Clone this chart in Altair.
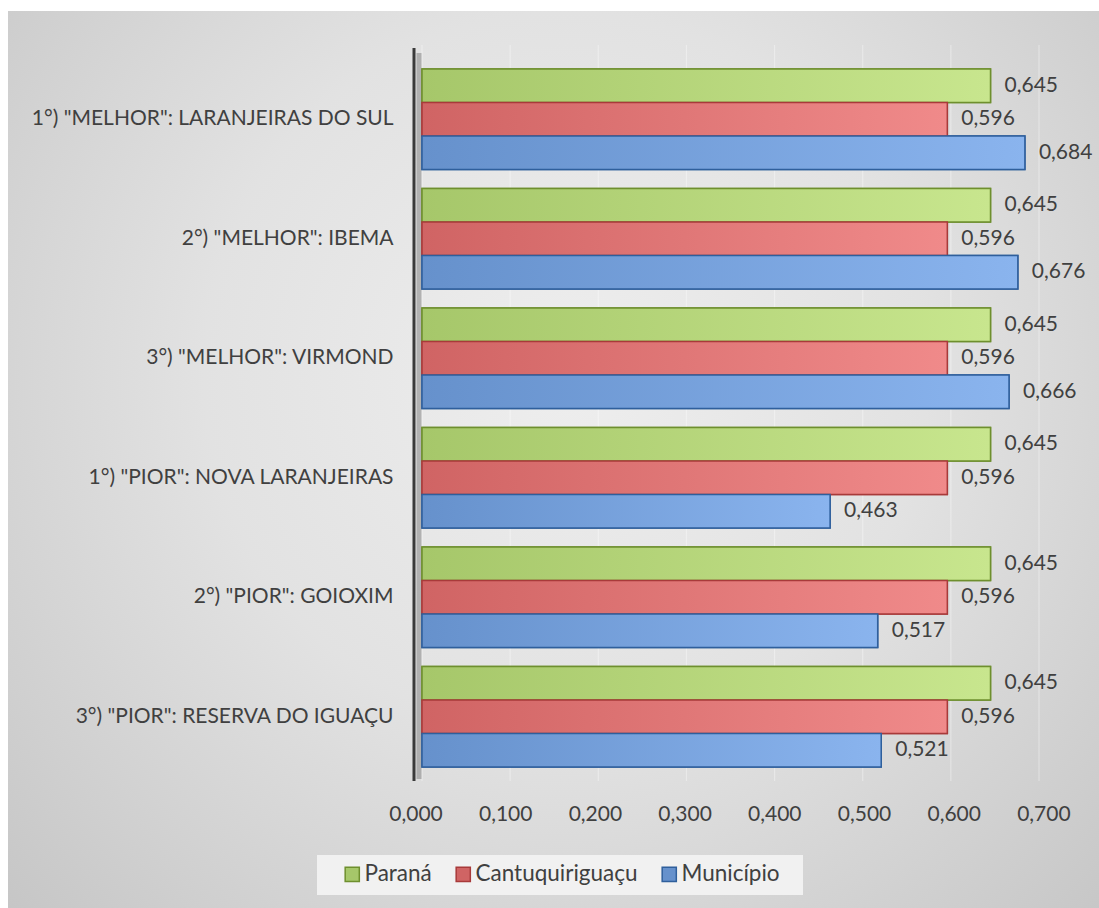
import altair as alt
import pandas as pd

categories = [
    '1°) "MELHOR": LARANJEIRAS DO SUL',
    '2°) "MELHOR": IBEMA',
    '3°) "MELHOR": VIRMOND',
    '1°) "PIOR": NOVA LARANJEIRAS',
    '2°) "PIOR": GOIOXIM',
    '3°) "PIOR": RESERVA DO IGUAÇU ',
]
series = ["Paraná", "Cantuquiriguaçu", "Município"]
parana = [0.645, 0.645, 0.645, 0.645, 0.645, 0.645]
cantu = [0.596, 0.596, 0.596, 0.596, 0.596, 0.596]
municipio = [0.684, 0.676, 0.666, 0.463, 0.517, 0.521]
x_ticks = [0.0, 0.1, 0.2, 0.3, 0.4, 0.5, 0.6, 0.7]

fills = ["#a6c76a", "#d06464", "#6691cc"]
fills_light = ["#c8e68e", "#f08a8a", "#8ab4ee"]
strokes = ["#6e8f2e", "#a83a3a", "#2f5f9c"]

rows = []
for s, vals in zip(series, [parana, cantu, municipio]):
    for c, v in zip(categories, vals):
        rows.append({"cat": c, "series": s, "value": v,
                     "label": f"{v:.3f}".replace(".", ",")})
df = pd.DataFrame(rows)

FONT = "Lato"
TXT = "#404040"
W, H = 617, 726
UNIT = W / 0.7          # px per unit for the bars
TICK_UNIT = 897         # tick labels sit on the wider front edge (3D look)
TICK_SHIFT = -6

yscale = alt.Scale(domain=categories, paddingInner=0.16, paddingOuter=0.117)
yoff = alt.Scale(domain=series, paddingInner=0, paddingOuter=0)
xscale = alt.Scale(domain=[0, 0.7], nice=False)

# background radial gradient
bg = alt.Chart(pd.DataFrame({"a": [0]})).mark_rect(
    color=alt.Gradient(
        gradient="radial",
        stops=[alt.GradientStop(color="#eeeeee", offset=0),
               alt.GradientStop(color="#e2e2e2", offset=0.45),
               alt.GradientStop(color="#c4c4c4", offset=1)],
        x1=0.5, y1=0.42, r1=0, x2=0.5, y2=0.42, r2=0.72,
    )
).encode(x=alt.value(-414), x2=alt.value(700), y=alt.value(-44), y2=alt.value(860))

# legend box
legend_box = alt.Chart(pd.DataFrame({"a": [0]})).mark_rect(color="#f1f1f1").encode(
    x=alt.value(-105), x2=alt.value(381), y=alt.value(800), y2=alt.value(840))

# gridlines (faint white)
grid = alt.Chart(pd.DataFrame({"t": x_ticks})).mark_rule(
    color="white", strokeWidth=1.2, opacity=0.35
).encode(x=alt.X("t:Q", scale=xscale, axis=None), y=alt.value(-10), y2=alt.value(H))

# x tick labels
ticklabels = alt.Chart(pd.DataFrame({"t": x_ticks})).transform_calculate(
    pos=f"(datum.t * {TICK_UNIT} + ({TICK_SHIFT})) / {UNIT}",
    txt="replace(format(datum.t, '.3f'), '.', ',')",
).mark_text(font=FONT, fontSize=21, color=TXT, align="center", baseline="middle").encode(
    x=alt.X("pos:Q", scale=xscale, axis=None), y=alt.value(760), text="txt:N")

base = alt.Chart(df).encode(
    y=alt.Y("cat:N", scale=yscale, sort=categories,
            axis=alt.Axis(title=None, domain=False, ticks=False, labelPadding=29,
                          labelFont=FONT, labelFontSize=21, labelColor=TXT,
                          labelLimit=500, zindex=2)),
    yOffset=alt.YOffset("series:N", scale=yoff, sort=series),
    x=alt.X("value:Q", scale=xscale, axis=None),
)

bars = base.mark_bar(strokeWidth=1.5).encode(
    color=alt.Color("series:N", scale=alt.Scale(domain=series, range=fills),
                    sort=series,
                    legend=alt.Legend(title=None, orient="none", direction="horizontal",
                                      legendX=-81, legendY=808, columns=3,
                                      symbolType="square", symbolSize=200,
                                      symbolStrokeWidth=1.5, labelOffset=1,
                                      labelFont=FONT, labelFontSize=22.5, labelColor=TXT,
                                      labelLimit=400,
                                      columnPadding=20, padding=0)),
    stroke=alt.Stroke("series:N", scale=alt.Scale(domain=series, range=strokes),
                      sort=series, legend=None),
)

overlays = []
for s, f, fl, st in zip(series, fills, fills_light, strokes):
    overlays.append(
        base.transform_filter(alt.datum.series == s).mark_bar(
            stroke=st, strokeWidth=1.5,
            color=alt.Gradient(gradient="linear",
                               stops=[alt.GradientStop(color=f, offset=0),
                                      alt.GradientStop(color=fl, offset=1)],
                               x1=0, x2=1, y1=0, y2=0),
        )
    )

labels = base.mark_text(align="left", baseline="middle", dx=14, font=FONT,
                        fontSize=21, color=TXT).encode(text="label:N")

axis_shadow = alt.Chart(pd.DataFrame({"a": [0]})).mark_rule(
    color="#9a9a9a", strokeWidth=5, opacity=0.7
).encode(x=alt.value(-3), y=alt.value(-2), y2=alt.value(H - 2))
axis_line = alt.Chart(pd.DataFrame({"a": [0]})).mark_rule(
    color="#3a3a3a", strokeWidth=3
).encode(x=alt.value(-8), y=alt.value(-7), y2=alt.value(H))

chart = alt.layer(bg, legend_box, grid, axis_shadow, bars, *overlays, labels,
                  ticklabels, axis_line).properties(
    width=W, height=H,
    autosize=alt.AutoSizeParams(type="none"),
    padding={"left": 422, "top": 55, "right": 1099 - 422 - W, "bottom": 908 - 55 - H},
    background="white",
).configure_view(stroke=None)

chart.save("out.html", embed_options={"renderer": "svg", "actions": False})
